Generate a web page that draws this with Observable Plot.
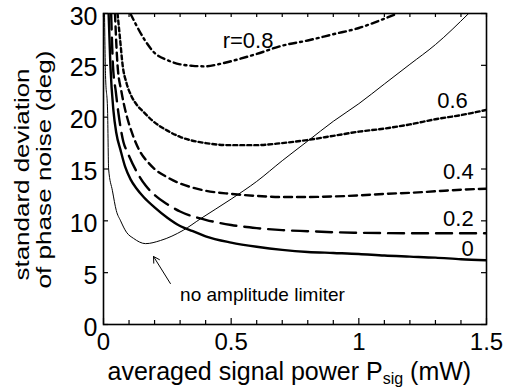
<!DOCTYPE html>
<html>
<head>
<meta charset="utf-8">
<script src="https://cdn.jsdelivr.net/npm/d3@7"></script>
<script src="https://cdn.jsdelivr.net/npm/@observablehq/plot@0.6"></script>
<style>
  html, body { margin: 0; padding: 0; background: #fff; }
  #chart svg { display: block; }
</style>
</head>
<body>
<div id="chart"></div>
<script>
// ---- data ----
const curveR0 = [[0.02,30],[0.027,25],[0.039,20.6],[0.05,18.5],[0.067,16.8],[0.085,15.2],[0.106,14.0],[0.13,13.1],[0.157,12.3],[0.2,11.3],[0.25,10.3],[0.3,9.5],[0.35,9.0],[0.4,8.5],[0.5,7.9],[0.6,7.5],[0.7,7.2],[0.8,7.0],[0.9,6.9],[1.0,6.8],[1.1,6.65],[1.2,6.55],[1.3,6.45],[1.4,6.3],[1.5,6.2]];
const curveR02 = [[0.03,30],[0.037,25],[0.048,22.5],[0.059,20.3],[0.078,17.6],[0.094,16.6],[0.133,14.6],[0.165,13.4],[0.2,12.5],[0.25,11.6],[0.3,10.9],[0.4,10.1],[0.5,9.6],[0.6,9.3],[0.7,9.1],[0.8,9.0],[0.9,8.9],[1.0,8.85],[1.2,8.8],[1.5,8.8]];
const curveR04 = [[0.045,30],[0.055,25],[0.07,22.5],[0.086,20.6],[0.11,18.6],[0.145,16.6],[0.176,15.6],[0.2,15.0],[0.25,14.2],[0.3,13.6],[0.35,13.2],[0.4,12.9],[0.5,12.6],[0.6,12.4],[0.7,12.3],[0.8,12.3],[0.9,12.35],[1.0,12.45],[1.1,12.6],[1.2,12.7],[1.3,12.85],[1.4,13.0],[1.5,13.1]];
const curveR06 = [[0.055,30],[0.065,27.5],[0.075,25],[0.09,23.3],[0.11,22],[0.13,21.2],[0.157,20.5],[0.19,19.7],[0.25,18.7],[0.3,18.1],[0.4,17.5],[0.5,17.3],[0.6,17.3],[0.7,17.5],[0.8,17.8],[0.9,18.2],[1.0,18.6],[1.1,18.9],[1.2,19.3],[1.3,19.8],[1.4,20.2],[1.5,20.7]];
const curveR08 = [[0.105,30],[0.13,28.8],[0.16,27.5],[0.2,26.2],[0.25,25.5],[0.3,25.1],[0.35,24.95],[0.4,24.9],[0.45,25.1],[0.5,25.4],[0.6,26.1],[0.7,26.9],[0.8,27.4],[0.9,28.0],[1.0,28.6],[1.1,29.5],[1.15,30]];
const curveNoLimiter = [[0.004,30],[0.008,24],[0.016,20.6],[0.02,15],[0.035,12.9],[0.05,11],[0.067,10],[0.09,8.9],[0.118,8.3],[0.165,7.8],[0.223,8.1],[0.313,9.1],[0.38,10.2],[0.5,12.1],[0.6,13.8],[0.7,15.8],[0.8,17.7],[0.9,19.6],[1.0,21.3],[1.1,23.2],[1.2,25.1],[1.3,27.0],[1.43,30]];

const curveLabels = [
  {x: 0.566, y: 27.4, text: "r=0.8"},
  {x: 1.367, y: 21.6, text: "0.6"},
  {x: 1.39, y: 14.75, text: "0.4"},
  {x: 1.39, y: 10.2, text: "0.2"},
  {x: 1.426, y: 7.33, text: "0"}
];
const noteLabel = [{x: 0.30, y: 2.9, text: "no amplitude limiter"}];
const noteArrow = [{x1: 0.262, y1: 3.95, x2: 0.196, y2: 6.56}];

const xMajorTicks = [0, 0.5, 1, 1.5];
const xMinorTicks = [0.1, 0.2, 0.3, 0.4, 0.6, 0.7, 0.8, 0.9, 1.1, 1.2, 1.3, 1.4];
const yTicks = [0, 5, 10, 15, 20, 25, 30];
const xTitle = "averaged signal power Psig (mW)";
const yTitle1 = "standard deviation";
const yTitle2 = "of phase noise (deg)";

// ---- layout ----
const W = 507, H = 388;
const mL = 103, mR = 21, mT = 13, mB = 64;
const fw = W - mL - mR, fh = H - mT - mB;
const font = "Liberation Sans, Arial, Helvetica, sans-serif";

const lineOpts = {x: d => d[0], y: d => d[1], curve: "monotone-x", clip: true, stroke: "#000"};

const chart = Plot.plot({
  width: W, height: H,
  marginLeft: mL, marginRight: mR, marginTop: mT, marginBottom: mB,
  style: {fontFamily: font, background: "#fff", color: "#000"},
  x: {domain: [0, 1.5]},
  y: {domain: [0, 30]},
  marks: [
    // curves
    Plot.line(curveNoLimiter, {...lineOpts, strokeWidth: 1}),
    Plot.line(curveR0, {...lineOpts, strokeWidth: 2.4}),
    Plot.line(curveR02, {...lineOpts, strokeWidth: 2.4, strokeDasharray: "16,8"}),
    Plot.line(curveR04, {...lineOpts, strokeWidth: 2.4, strokeDasharray: "8,5"}),
    Plot.line(curveR06, {...lineOpts, strokeWidth: 2.4, strokeDasharray: "4,3"}),
    Plot.line(curveR08, {...lineOpts, strokeWidth: 2.4, strokeDasharray: "7,4,2,4"}),
    // ticks (inward)
    Plot.tickX(xMajorTicks, {x: d => d, insetTop: fh - 6, strokeWidth: 1.2}),
    Plot.tickX(xMinorTicks, {x: d => d, insetTop: fh - 4, strokeWidth: 1.2}),
    Plot.tickX(xMajorTicks.concat(xMinorTicks), {x: d => d, insetBottom: fh - 4, strokeWidth: 1.2}),
    Plot.tickY(yTicks, {y: d => d, insetRight: fw - 5, strokeWidth: 1.2}),
    Plot.tickY(yTicks, {y: d => d, insetLeft: fw - 5, strokeWidth: 1.2}),
    Plot.frame({stroke: "#000", strokeWidth: 1.6}),
    // axes
    Plot.axisX({ticks: xMajorTicks, tickSize: 0, tickPadding: 8, fontSize: 24, tickFormat: d => String(d), label: null}),
    Plot.axisY({ticks: yTicks, tickSize: 0, tickPadding: 6, fontSize: 25, dy: 3, tickFormat: d => String(d), label: null}),
    // labels
    Plot.text(curveLabels, {x: "x", y: "y", text: "text", fontSize: 22, fill: "#000"}),
    Plot.text(noteLabel, {x: "x", y: "y", text: "text", fontSize: 19, textAnchor: "start", fill: "#000"}),
    Plot.arrow(noteArrow, {x1: "x1", y1: "y1", x2: "x2", y2: "y2", headLength: 10, strokeWidth: 1, stroke: "#000"}),
    // titles
    Plot.text([xTitle], {frameAnchor: "bottom-left", textAnchor: "start", lineAnchor: "bottom", dx: 4, dy: 55, fontSize: 25, fill: "#000"}),
    Plot.text([yTitle1], {frameAnchor: "left", rotate: -90, textAnchor: "middle", lineAnchor: "bottom", dx: -75, dy: 5.5, fontSize: 21, fill: "#000"}),
    Plot.text([yTitle2], {frameAnchor: "left", rotate: -90, textAnchor: "middle", lineAnchor: "bottom", dx: -53, dy: 0.5, fontSize: 21, fill: "#000"})
  ]
});

document.getElementById("chart").appendChild(chart);

// post-process: stretch y title lines, subscript in x title
const svg = d3.select(chart);
svg.selectAll("text").filter(function() { return this.textContent === yTitle1; })
  .attr("textLength", 212).attr("lengthAdjust", "spacingAndGlyphs");
svg.selectAll("text").filter(function() { return this.textContent === yTitle2; })
  .attr("textLength", 238).attr("lengthAdjust", "spacingAndGlyphs");
svg.selectAll("text").filter(function() { return this.textContent === xTitle; })
  .each(function() {
    const t = d3.select(this);
    t.text("");
    t.append("tspan").text("averaged signal power P");
    t.append("tspan").attr("font-size", 16).attr("dy", 4).text("sig");
    t.append("tspan").attr("dy", -4).text(" (mW)");
  });
</script>
</body>
</html>
